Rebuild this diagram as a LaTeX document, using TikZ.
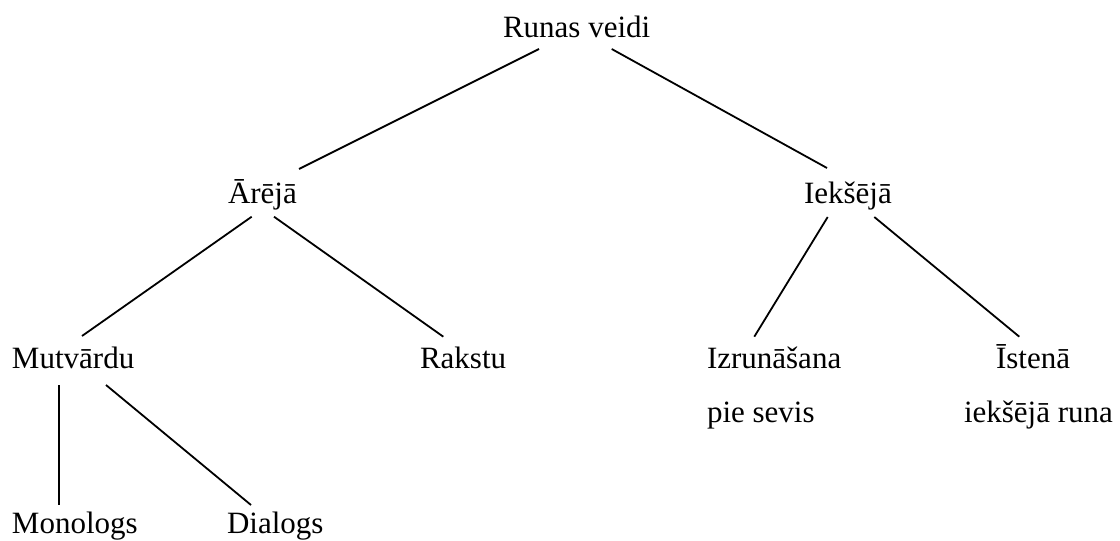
\documentclass[tikz,border=0pt]{standalone}
\usepackage{fontspec}
\setmainfont{Liberation Serif}
\begin{document}
\begin{tikzpicture}[x=1pt,y=-1pt,
  lbl/.style={anchor=base west,inner sep=0pt,outer sep=0pt,font=\fontsize{31}{37}\selectfont},
  edge/.style={line width=1.8pt,line cap=butt}]
\useasboundingbox (0,0) rectangle (1120,541);
\fill[white] (0,0) rectangle (1120,541);
% nodes
\node[lbl] (root) at (503,37) {Runas veidi};
\node[lbl] (ar) at (228,203) {Ārējā};
\node[lbl] (ie) at (804,203) {Iekšējā};
\node[lbl] (mut) at (12,368) {Mutvārdu};
\node[lbl] (rak) at (420,368) {Rakstu};
\node[lbl] (izr) at (707,368) {Izrunāšana};
\node[lbl] (izr2) at (707,422) {pie sevis};
\node[lbl] (ist) at (996,368) {Īstenā};
\node[lbl] (ist2) at (964,422) {iekšējā runa};
\node[lbl] (mon) at (12,533) {Monologs};
\node[lbl] (dia) at (227,533) {Dialogs};
% connectors
\draw[edge] ([shift={(36,12)}]root.base west) -- ([shift={(71,-34)}]ar.base west);
\draw[edge] ([shift={(108.7,12)}]root.base west) -- ([shift={(23,-35)}]ie.base west);
\draw[edge] ([shift={(23.7,13.7)}]ar.base west) -- ([shift={(70,-32)}]mut.base west);
\draw[edge] ([shift={(46,13.7)}]ar.base west) -- ([shift={(23.3,-31.3)}]rak.base west);
\draw[edge] ([shift={(23.7,14)}]ie.base west) -- ([shift={(47.3,-31.3)}]izr.base west);
\draw[edge] ([shift={(70.3,14)}]ie.base west) -- ([shift={(23.3,-31.3)}]ist.base west);
\draw[edge] ([shift={(47,17)}]mut.base west) -- ([shift={(47,-28)}]mon.base west);
\draw[edge] ([shift={(94,17)}]mut.base west) -- ([shift={(24,-28)}]dia.base west);
\end{tikzpicture}
\end{document}
